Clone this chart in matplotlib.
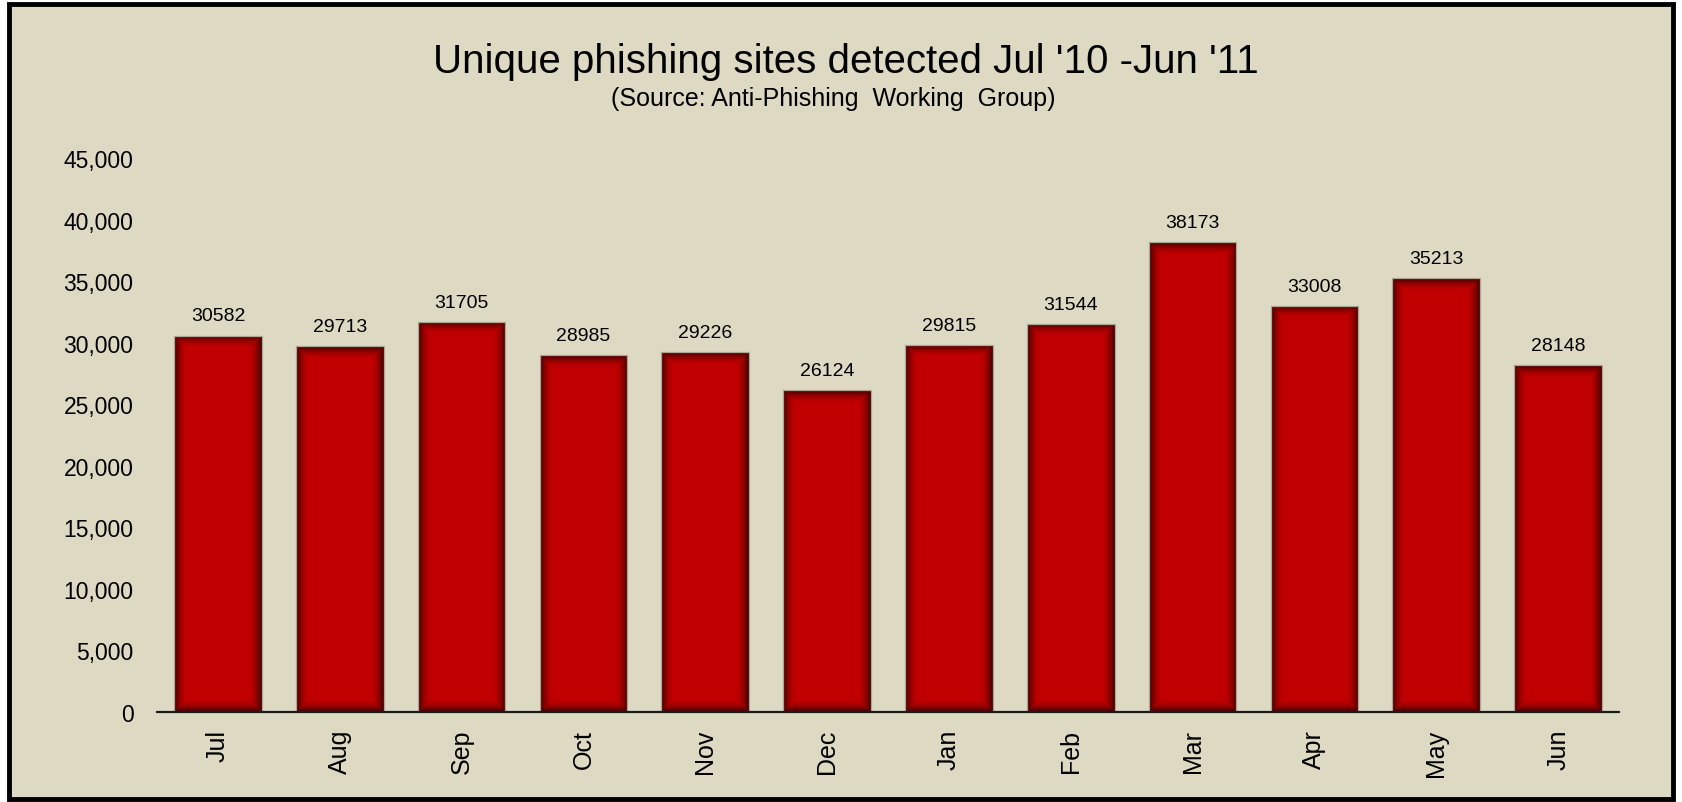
import numpy as np
import matplotlib
matplotlib.use("Agg")
import matplotlib.pyplot as plt
from matplotlib.patches import Rectangle
from matplotlib.ticker import FuncFormatter

months = ["Jul", "Aug", "Sep", "Oct", "Nov", "Dec",
          "Jan", "Feb", "Mar", "Apr", "May", "Jun"]
sites = [30582, 29713, 31705, 28985, 29226, 26124,
         29815, 31544, 38173, 33008, 35213, 28148]
yticks = [0, 5000, 10000, 15000, 20000, 25000, 30000, 35000, 40000, 45000]

bg = "#DDD9C3"
bar_col = "#C00000"

plt.rcParams['font.family'] = ['Liberation Sans', 'DejaVu Sans']

W, H = 1683, 803
fig = plt.figure(figsize=(W/100, H/100), dpi=100, facecolor="white")

# tan panel with heavy black frame
fig.patches.append(Rectangle((9/W, 3/H), 1664/W, 795/H, transform=fig.transFigure,
                             facecolor=bg, edgecolor="black", lw=3.5, zorder=-5))

ax = fig.add_axes([157/W, 90/H, 1462/W, 554/H])
ax.set_facecolor("none")
ax.set_zorder(2)

x = np.arange(len(months))
bw = 0.72
bars = ax.bar(x, sites, width=bw, color=bar_col, edgecolor="none", zorder=2)
# thin grey outline round each bar
ax.bar(x, sites, width=bw, fill=False, edgecolor="#aaa797", lw=0.9, zorder=3.5)
ax.set_xlim(-0.5, len(months) - 0.5)
ax.set_ylim(0, 45000)

# soft inner shadow on each bar
px_x = 1462 / len(months)
px_y = 554 / 45000
edge = 13.0
for b, v in zip(bars, sites):
    nx = int(round(bw * px_x))
    ny = int(round(v * px_y))
    xs = np.arange(nx) + 0.5
    ys = np.arange(ny) + 0.5
    dx = np.minimum(xs, nx - xs)[None, :]
    dy = np.minimum(ys, ny - ys)[:, None]
    d = np.minimum(dx, dy)
    a = np.clip(1 - d / edge, 0, 1) ** 1.8 * 0.7
    img = np.zeros((ny, nx, 4))
    img[..., 3] = a
    im = ax.imshow(img, extent=(b.get_x(), b.get_x() + bw, 0, v), origin="lower",
                   aspect="auto", interpolation="bilinear", zorder=3)
    im.set_clip_path(b)
    ax.annotate(f"{v}", (b.get_x() + bw/2, v), xytext=(0, 8), textcoords="offset points",
                ha="center", va="bottom", fontsize=14, color="black", zorder=4)
ax.set_xlim(-0.5, len(months) - 0.5)
ax.set_ylim(0, 45000)

ax.set_xticks(x)
ax.set_xticklabels(months, rotation=90, fontsize=18)
ax.set_yticks(yticks)
ax.yaxis.set_major_formatter(FuncFormatter(lambda v, p: f"{int(v):,}"))
ax.tick_params(axis="y", length=0, pad=17, labelsize=16.5)
ax.tick_params(axis="x", length=0, pad=12)

for s in ["top", "right", "left"]:
    ax.spines[s].set_visible(False)
ax.spines["bottom"].set_color("#1a1a1a")
ax.spines["bottom"].set_linewidth(1.6)
ax.spines["bottom"].set_zorder(5)

fig.text(846/W, 1 - 62/H, "Unique phishing sites detected Jul '10 -Jun '11",
         ha="center", va="center", fontsize=29)
fig.text(833/W, 1 - 99/H, "(Source: Anti-Phishing  Working  Group)",
         ha="center", va="center", fontsize=18)

fig.savefig("out.png", dpi=100, facecolor="white")
